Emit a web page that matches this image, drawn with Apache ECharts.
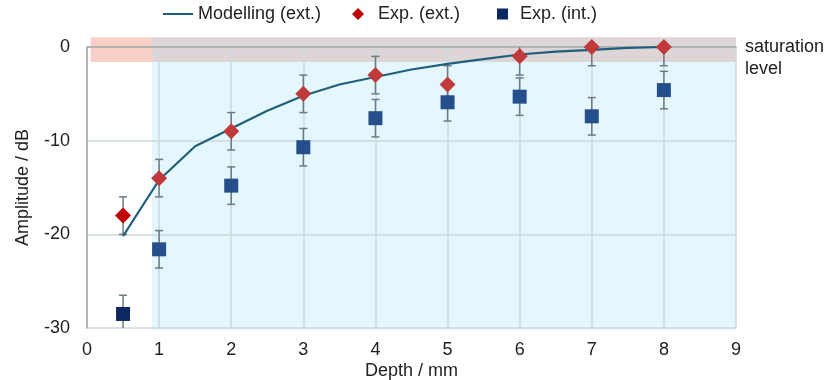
<!DOCTYPE html>
<html>
<head>
<meta charset="utf-8">
<script src="https://cdn.jsdelivr.net/npm/echarts@6/dist/echarts.min.js"></script>
<style>
  html, body { margin: 0; padding: 0; background: #fff; }
  #chart { width: 827px; height: 380px; }
</style>
</head>
<body>
<div id="chart"></div>
<script>
// Depth positions (mm)
const depths = [0.5, 1, 2, 3, 4, 5, 6, 7, 8];
// Measured amplitudes (dB)
const expExt = [-18, -14, -9, -5, -3, -4, -1, 0, 0];
const expInt = [-28.5, -21.6, -14.8, -10.7, -7.6, -5.9, -5.3, -7.4, -4.6];
const errHalf = 2; // ± error of each measurement (dB)

// Modelled curve (ext.)
const modelDepth = [0.5, 1, 1.5, 2, 2.5, 3, 3.5, 4, 4.5, 5, 5.5, 6, 6.5, 7, 7.5, 8];
const modelAmp = [-20.2, -14.2, -10.6, -8.7, -6.8, -5.2, -4.0, -3.2, -2.4, -1.8, -1.3, -0.8, -0.5, -0.3, -0.1, 0];

// Shaded regions: [x0, x1, y0, y1, colour]
const regions = [
  [0.05, 0.9, -1.6, 1.05, '#f8d0c8'],
  [0.9, 9, -1.6, 1.05, '#ddd5d6'],
  [0.9, 9, -30.2, -1.6, '#e4f7fd']
];

const font = 'Liberation Sans, Arial, sans-serif';
const txt = { fontFamily: font, fontSize: 18, color: '#222' };

function errorSeries(values) {
  return {
    type: 'custom',
    silent: true,
    z: 1,
    clip: true,
    data: depths.map((d, i) => [d, values[i] - errHalf, values[i] + errHalf]),
    renderItem: function (params, api) {
      const x = api.value(0);
      const lo = api.coord([x, api.value(1)]);
      const hi = api.coord([x, api.value(2)]);
      const cap = 4;
      const style = { stroke: '#6e7a80', lineWidth: 1.5 };
      return {
        type: 'group',
        children: [
          { type: 'line', shape: { x1: lo[0], y1: lo[1], x2: hi[0], y2: hi[1] }, style },
          { type: 'line', shape: { x1: lo[0] - cap, y1: lo[1], x2: lo[0] + cap, y2: lo[1] }, style },
          { type: 'line', shape: { x1: hi[0] - cap, y1: hi[1], x2: hi[0] + cap, y2: hi[1] }, style }
        ]
      };
    }
  };
}

const legendBase = { top: 5, padding: 0, itemHeight: 12 };

const chart = echarts.init(document.getElementById('chart'));
chart.setOption({
  animation: false,
  backgroundColor: '#ffffff',
  grid: { left: 87, right: 91, top: 47, bottom: 52, containLabel: false, outerBoundsMode: 'none' },
  legend: [
    Object.assign({}, legendBase, {
      left: 163, itemWidth: 30,
      textStyle: Object.assign({}, txt),
      data: [{ name: 'Modelling (ext.)', icon: 'path://M0,5 L30,5 L30,7 L0,7 Z' }]
    }),
    Object.assign({}, legendBase, {
      left: 352, itemWidth: 12,
      textStyle: Object.assign({ padding: [0, 0, 0, 9] }, txt),
      data: [{ name: 'Exp. (ext.)', icon: 'diamond', itemStyle: { color: '#c00000' } }]
    }),
    Object.assign({}, legendBase, {
      left: 497, itemWidth: 11, itemHeight: 11,
      textStyle: Object.assign({ padding: [0, 0, 0, 7] }, txt),
      data: [{ name: 'Exp. (int.)', icon: 'rect', itemStyle: { color: '#0d2860' } }]
    })
  ],
  xAxis: {
    type: 'value',
    min: 0, max: 9, interval: 1,
    name: 'Depth / mm',
    nameLocation: 'middle',
    nameGap: 34,
    nameMoveOverlap: false,
    nameTextStyle: txt,
    axisLine: { lineStyle: { color: '#a6a6a6', width: 1.5 } },
    axisTick: { show: false },
    axisLabel: Object.assign({ margin: 13 }, txt),
    splitLine: { show: true, lineStyle: { color: '#cdd9de', width: 1.5 } }
  },
  yAxis: {
    type: 'value',
    min: -30, max: 0, interval: 10,
    name: 'Amplitude / dB',
    nameLocation: 'middle',
    nameGap: 55,
    nameMoveOverlap: false,
    nameRotate: 90,
    nameTextStyle: txt,
    axisLine: { show: true, lineStyle: { color: '#a6a6a6', width: 1.5 } },
    axisTick: { show: false },
    axisLabel: Object.assign({ margin: 17 }, txt),
    splitLine: { show: true, lineStyle: { color: '#cdd9de', width: 1.5 } }
  },
  graphic: [
    {
      type: 'text',
      left: 745,
      top: 36,
      style: {
        text: 'saturation\nlevel',
        fontFamily: font,
        fontSize: 18,
        lineHeight: 22,
        fill: '#222'
      }
    }
  ],
  series: [
    {
      type: 'custom',
      silent: true,
      z: -1,
      clip: false,
      data: regions,
      renderItem: function (params, api) {
        const p0 = api.coord([api.value(0), api.value(3)]);
        const p1 = api.coord([api.value(1), api.value(2)]);
        return {
          type: 'rect',
          shape: { x: p0[0], y: p0[1], width: p1[0] - p0[0], height: p1[1] - p0[1] },
          style: { fill: regions[params.dataIndex][4] }
        };
      }
    },
    errorSeries(expExt),
    errorSeries(expInt),
    {
      name: 'Modelling (ext.)',
      type: 'line',
      z: 3,
      symbol: 'none',
      data: modelDepth.map((d, i) => [d, modelAmp[i]]),
      lineStyle: { color: '#1f5f7d', width: 2.2 },
      itemStyle: { color: '#1f5f7d' }
    },
    {
      name: 'Exp. (ext.)',
      type: 'scatter',
      z: 4,
      symbol: 'diamond',
      symbolSize: 16,
      itemStyle: { color: '#c0393b', opacity: 1 },
      data: depths.map((d, i) => ({
        value: [d, expExt[i]],
        itemStyle: i === 0 ? { color: '#c00000', opacity: 1 } : undefined
      }))
    },
    {
      name: 'Exp. (int.)',
      type: 'scatter',
      z: 4,
      symbol: 'rect',
      symbolSize: 14,
      itemStyle: { color: '#244f8a', opacity: 1 },
      data: depths.map((d, i) => ({
        value: [d, expInt[i]],
        itemStyle: i === 0 ? { color: '#0d2860', opacity: 1 } : undefined
      }))
    }
  ]
});
</script>
</body>
</html>
